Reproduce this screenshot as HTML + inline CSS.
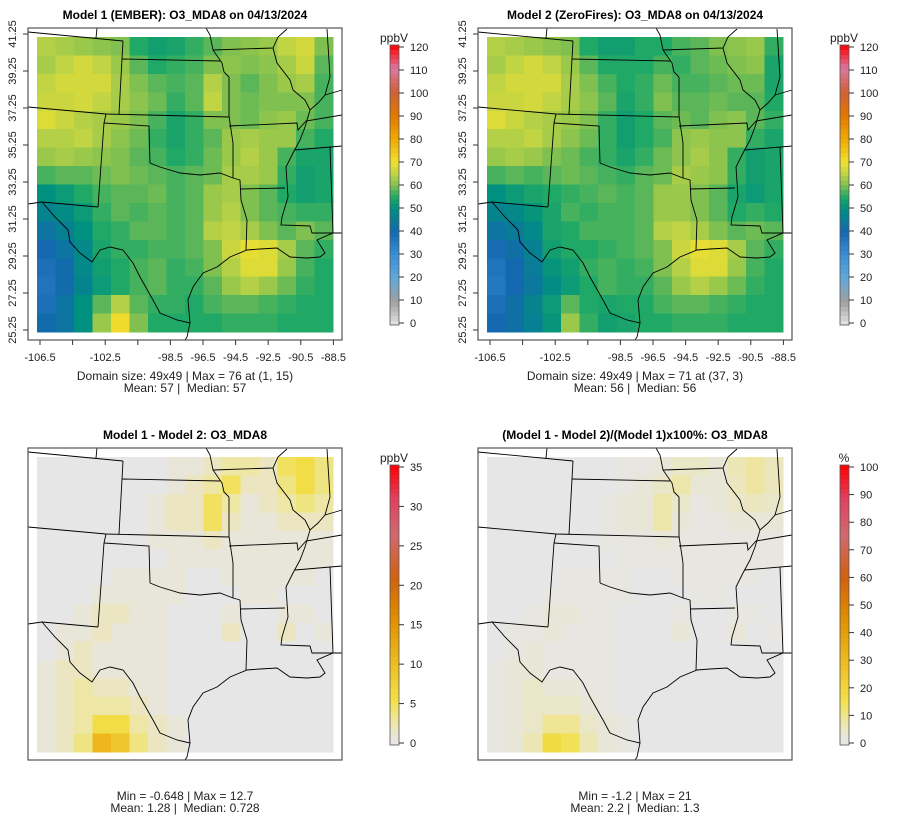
<!DOCTYPE html>
<html><head><meta charset="utf-8">
<style>
body{margin:0;background:#fff;}
svg{display:block;font-family:"Liberation Sans",sans-serif;}
text{white-space:pre;}
</style></head>
<body>
<svg id="fig" width="900" height="840" xmlns="http://www.w3.org/2000/svg"></svg>
<script>
// ---- data (16x16 coarse grids, rows top->bottom) ----
const model1 = [
[64,63,62,61,60,55,53,54,56,58,60,61,62,65,67,60],
[63,65,67,65,62,58,55,56,57,60,61,60,61,63,66,58],
[65,67,67,67,63,60,58,57,58,64,60,58,60,62,63,57],
[66,66,67,65,63,61,59,56,58,65,60,59,60,60,60,57],
[68,66,64,63,62,60,57,54,56,60,60,59,61,62,59,57],
[64,64,65,63,61,59,56,54,56,58,62,63,62,62,57,55],
[62,63,62,61,60,58,57,55,56,59,62,64,62,57,54,54],
[57,58,58,59,60,59,58,57,58,59,63,63,62,56,53,54],
[50,52,55,57,58,58,59,57,58,62,63,60,58,55,53,54],
[47,49,52,56,58,57,58,57,58,62,64,60,58,57,56,56],
[43,46,50,55,56,58,58,57,58,64,65,63,60,58,60,58],
[40,43,48,54,56,56,57,57,58,60,66,69,68,63,58,56],
[38,41,48,53,55,57,58,56,57,60,64,68,68,62,57,55],
[37,41,47,52,55,57,58,56,56,58,62,64,62,59,56,55],
[38,43,50,58,64,58,56,56,55,57,58,58,57,56,55,55],
[41,43,50,62,71,60,55,55,55,55,56,56,56,55,55,55]];
const model2 = [
[64,63,62,61,60,55,53,53,55,55,57,58,60,61,62,56],
[63,65,67,65,62,58,55,55,55,57,56,58,59,60,61,54],
[65,67,67,67,63,60,57,55,56,59,57,57,58,59,59,54],
[66,66,67,65,63,61,58,54,56,60,58,58,59,58,58,55],
[68,66,64,63,62,60,56,53,55,58,59,58,60,61,58,56],
[64,64,65,63,61,59,56,53,55,57,61,62,61,61,56,54],
[62,63,62,60,59,57,56,54,56,59,61,63,61,56,53,54],
[57,58,57,58,59,58,57,56,58,59,63,62,61,56,53,54],
[50,52,54,55,56,57,58,57,58,62,62,60,58,54,52,54],
[47,48,51,54,57,56,57,57,58,62,62,60,58,55,56,55],
[43,45,48,54,55,57,57,57,58,64,65,63,60,58,59,58],
[39,42,46,53,55,55,56,57,58,60,66,69,68,63,58,56],
[37,40,45,51,53,56,57,56,57,60,64,68,68,62,57,55],
[36,40,44,49,52,55,57,56,56,58,62,64,62,59,56,55],
[38,42,47,52,58,55,54,55,55,57,58,58,57,56,55,55],
[40,42,46,51,62,56,53,54,55,55,56,56,56,55,55,55]];
const diffAbs = [
[0,0,0,0,0,0,0,1,1,2,3,3,2,5,6,4],
[0,0,0,0,0,0,0,1,2,3,5,2,2,4,6,4],
[0,0,0,0,0,0,1,2,2,5,3,1,2,3,4,3],
[0,0,0,0,0,0,1,2,2,5,2,1,1,2,2,2],
[0,0,0,0,0,0,1,1,1,2,1,1,1,1,1,1],
[0,0,0,0,0,0,0,1,1,1,1,1,1,1,1,1],
[0,0,0,0,1,1,1,1,0,0,1,1,1,1,1,0],
[0,0,0,1,1,1,1,1,0,0,0,1,1,0,0,0],
[0,0,1,2,2,1,1,0,0,0,1,0,0,1,1,0],
[0,1,1,2,1,1,1,0,0,0,2,0,0,2,0,1],
[0,1,2,1,1,1,1,0,0,0,0,0,0,0,0,0],
[1,2,2,1,1,1,1,0,0,0,0,0,0,0,0,0],
[1,2,3,2,2,1,1,0,0,0,0,0,0,0,0,0],
[1,2,3,3,3,2,1,0,0,0,0,0,0,0,0,0],
[1,2,3,6,6,3,2,1,0,0,0,0,0,0,0,0],
[1,2,4,11,9,4,2,1,0,0,0,0,0,0,0,0]];
const diffPct = [
[0,0,0,0,0,0,0,1,1,3,5,5,3,7,9,6],
[0,0,0,0,0,0,0,1,3,5,8,3,3,6,9,6],
[0,0,0,0,0,0,1,3,3,8,5,1,3,5,6,5],
[0,0,0,0,0,0,1,3,3,8,3,1,1,3,3,3],
[0,0,0,0,0,0,1,1,1,3,1,1,1,1,1,1],
[0,0,0,0,0,0,0,1,1,1,1,1,1,1,1,1],
[0,0,0,0,1,1,1,1,0,0,1,1,1,1,1,0],
[0,0,0,1,1,1,1,1,0,0,0,1,1,0,0,0],
[0,0,1,3,3,1,1,0,0,0,1,0,0,1,1,0],
[0,1,1,3,1,1,1,0,0,0,3,0,0,3,0,1],
[0,1,3,1,1,1,1,0,0,0,0,0,0,0,0,0],
[1,3,3,1,1,1,1,0,0,0,0,0,0,0,0,0],
[1,3,5,3,3,1,1,0,0,0,0,0,0,0,0,0],
[1,3,5,5,5,3,1,0,0,0,0,0,0,0,0,0],
[1,3,5,10,10,5,3,1,0,0,0,0,0,0,0,0],
[1,3,7,18,15,7,3,1,0,0,0,0,0,0,0,0]];
const lonTicks = [-106.5,-104.5,-102.5,-100.5,-98.5,-96.5,-94.5,-92.5,-90.5,-88.5];
const lonLabels = ["-106.5","","-102.5","","-98.5","-96.5","-94.5","-92.5","-90.5","-88.5"];
const latTicks = [41.25,39.25,37.25,35.25,33.25,31.25,29.25,27.25,25.25];
const concTicks = [0,10,20,30,40,50,60,70,80,90,100,110,120];
const absTicks = [0,5,10,15,20,25,30,35];
const pctTicks = [0,10,20,30,40,50,60,70,80,90,100];

const NS="http://www.w3.org/2000/svg";
const svg=document.getElementById('fig');
function mk(tag,attrs,parent){const e=document.createElementNS(NS,tag);for(const k in attrs)e.setAttribute(k,attrs[k]);(parent||svg).appendChild(e);return e;}
function hex(c){return [parseInt(c.slice(1,3),16),parseInt(c.slice(3,5),16),parseInt(c.slice(5,7),16)];}
function ramp(stops,t){t=Math.max(0,Math.min(1,t));for(let i=1;i<stops.length;i++){if(t<=stops[i][0]){const a=stops[i-1],b=stops[i];const f=(t-a[0])/(b[0]-a[0]||1);const A=hex(a[1]),B=hex(b[1]);return 'rgb('+A.map((v,j)=>Math.round(v+(B[j]-v)*f)).join(',')+')';}}return stops[stops.length-1][1];}
const mainStops=[[0,'#e6e6e6'],[10/120,'#a0a0a0'],[20/120,'#62a8d8'],[30/120,'#3a90d8'],[40/120,'#1468b0'],[50/120,'#009080'],[55/120,'#20a866'],[60/120,'#80c050'],[65/120,'#c0d444'],[70/120,'#f0e030'],[80/120,'#f0a800'],[90/120,'#e07800'],[100/120,'#d06038'],[110/120,'#d878a0'],[1,'#ff0000']];
const diffStops=[[0,'#e6e6e6'],[0.04,'#e9e6d2'],[0.09,'#eee6a0'],[0.16,'#f2e04a'],[0.3,'#eebb20'],[0.45,'#e09000'],[0.6,'#d06010'],[0.75,'#d06a70'],[0.88,'#e04060'],[1,'#ff0000']];

const MX0=37,MY0=37,MW=296,MH=295;
function xLon(lon){return 40+(lon+106.5)*16.3;}
function yLat(lat){return 34+(41.25-lat)*18.5;}
const borders=[
[[28,32],[123,41]],[[97,28],[96,38]],[[123,41],[122,59],[119,114]],[[122,59],[220,61]],
[[206,28],[210,35],[213,50],[222,63],[224,72],[229,77]],[[213,50],[273,48],[278,37],[287,29]],
[[229,77],[229,116]],[[28,107],[106,114],[229,117]],[[106,114],[104,123],[98,207]],
[[104,123],[149,126],[150,163]],[[150,163],[160,167],[180,173],[200,175],[220,173],[233,178],[240,180]],
[[229,116],[233,143],[233,178]],[[229,126],[297,123],[298,130],[306,121],[342,115]],
[[240,189],[285,188]],[[240,180],[241,200],[247,220],[246,250]],
[[327,29],[330,77],[325,95],[318,103],[310,110],[305,127],[300,140],[293,153],[286,167],[288,197],[282,217],[281,225],[310,226],[312,233],[333,233],[342,233]],
[[295,150],[342,146]],[[330,147],[333,233]],
[[273,48],[277,63],[290,80],[293,90],[305,100],[310,110]],[[325,95],[342,90]],
[[28,204],[42,202],[98,207]],
[[42,202],[55,217],[68,230],[70,242],[80,253],[92,262],[100,250],[110,247],[123,250],[133,263],[140,277],[153,300],[160,313],[177,320],[190,323],[187,337],[185,340]],
[[190,323],[188,300],[193,287],[203,273],[217,267],[230,257],[247,250],[260,249],[277,248],[290,257],[307,258],[320,257],[325,253],[317,240],[333,233],[342,233]]];

function panel(dx,dy,grid,stops,vmax,cfg){
  const g=mk('g',{transform:`translate(${dx},${dy})`});
  
  
  const t=mk('text',{x:185,y:19,'text-anchor':'middle','font-size':12,'font-weight':'bold',fill:'#000'},g);
  t.textContent=cfg.title;
  
  
  const rows=grid.length,cols=grid[0].length,cw=MW/cols,ch=MH/rows;
  const hm=mk('g',{'shape-rendering':'crispEdges'},g);
  
  
  grid.forEach((row,r)=>row.forEach((v,c)=>{
    const cell=mk('rect',{x:MX0+c*cw,y:MY0+r*ch,width:cw+0.6,height:ch+0.6,fill:ramp(stops,v/vmax)},hm);
    
    
  }));
  const bg=mk('g',{fill:'none',stroke:'#000','stroke-width':0.9},g);
  
  
  borders.forEach(l=>mk('polyline',{points:l.map(p=>p.join(',')).join(' ')},bg));
  const box=mk('rect',{x:28,y:28,width:314,height:312,fill:'none',stroke:'#555','stroke-width':1.2},g);
  
  
  if(cfg.axes){
    const ax=mk('g',{'font-size':11,fill:'#222'},g);
    
    
    lonTicks.forEach((lon,i)=>{const x=xLon(lon);mk('line',{x1:x,x2:x,y1:340,y2:345,stroke:'#333'},ax);
      if(lonLabels[i]){const tx=mk('text',{x:x,y:361,'text-anchor':'middle'},ax);tx.textContent=lonLabels[i];}});
    const ay=mk('g',{'font-size':11,fill:'#222'},g);
    
    
    latTicks.forEach(lat=>{const y=yLat(lat);mk('line',{x1:23,x2:28,y1:y,y2:y,stroke:'#333'},ay);
      const tx=mk('text',{x:16,y:y,'text-anchor':'middle',transform:`rotate(-90 16 ${y})`},ay);tx.textContent=lat.toFixed(2);});
  }
  const s1=mk('text',{x:185,y:cfg.statY,'text-anchor':'middle','font-size':12,fill:'#222'},g);s1.textContent=cfg.stat1;
  
  const s2=mk('text',{x:185,y:cfg.statY+12,'text-anchor':'middle','font-size':12,fill:'#222'},g);s2.textContent=cfg.stat2;
  
  const cb=mk('g',{},g);
  
  
  const top=cfg.cbTop,bot=cfg.cbBot,n=60;
  for(let i=0;i<n;i++){const y0=bot-(i+1)*(bot-top)/n;mk('rect',{x:390,y:y0,width:9,height:(bot-top)/n+0.5,fill:ramp(stops,(i+0.5)/n),'shape-rendering':'crispEdges'},cb);}
  mk('rect',{x:390,y:top,width:9,height:bot-top,fill:'none',stroke:'#555','stroke-width':0.8},cb);
  cfg.ticks.forEach(v=>{const y=bot-2-v/vmax*(bot-top-4);mk('line',{x1:399,x2:404,y1:y,y2:y,stroke:'#333'},cb);
    const tx=mk('text',{x:410,y:y+4,'font-size':11,fill:'#222'},cb);tx.textContent=v;});
  const u=mk('text',{x:394,y:top-3,'text-anchor':'middle','font-size':12,fill:'#222'},cb);u.textContent=cfg.unit;
}
panel(0,0,model1,mainStops,120,{name:'panel-model1',title:'Model 1 (EMBER): O3_MDA8 on 04/13/2024',axes:true,statY:380,stat1:'Domain size: 49x49 | Max = 76 at (1, 15)',stat2:'Mean: 57 |  Median: 57',cbTop:45,cbBot:325,ticks:concTicks,unit:'ppbV'});
panel(450,0,model2,mainStops,120,{name:'panel-model2',title:'Model 2 (ZeroFires): O3_MDA8 on 04/13/2024',axes:true,statY:380,stat1:'Domain size: 49x49 | Max = 71 at (37, 3)',stat2:'Mean: 56 |  Median: 56',cbTop:45,cbBot:325,ticks:concTicks,unit:'ppbV'});
panel(0,420,diffAbs,diffStops,35,{name:'panel-difference',title:'Model 1 - Model 2: O3_MDA8',axes:false,statY:380,stat1:'Min = -0.648 | Max = 12.7',stat2:'Mean: 1.28 |  Median: 0.728',cbTop:45,cbBot:325,ticks:absTicks,unit:'ppbV'});
panel(450,420,diffPct,diffStops,100,{name:'panel-percent-difference',title:'(Model 1 - Model 2)/(Model 1)x100%: O3_MDA8',axes:false,statY:380,stat1:'Min = -1.2 | Max = 21',stat2:'Mean: 2.2 |  Median: 1.3',cbTop:45,cbBot:325,ticks:pctTicks,unit:'%'});
</script>
</body></html>
